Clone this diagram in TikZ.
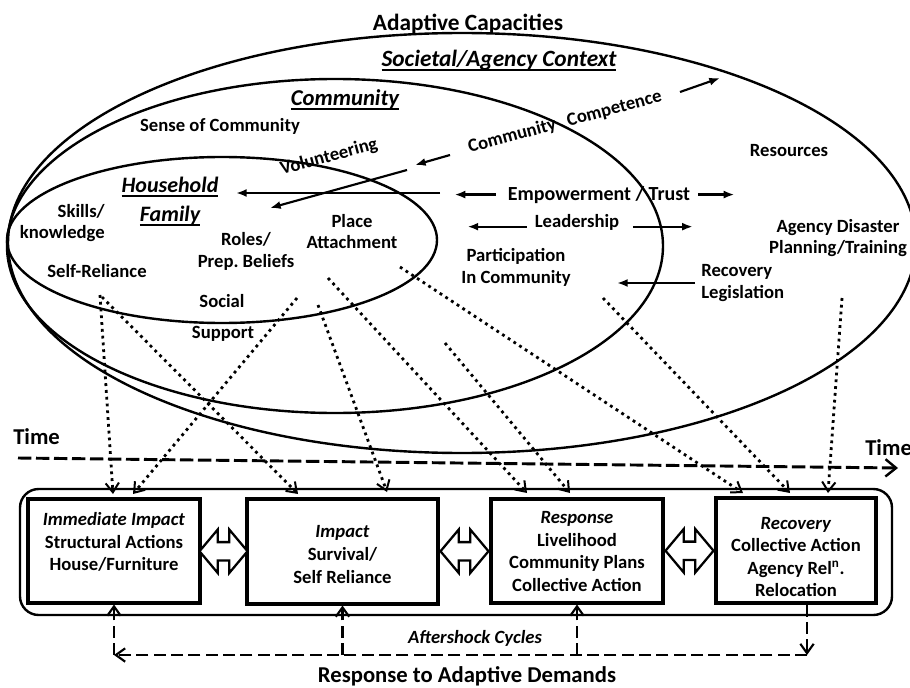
\documentclass[tikz,border=0pt]{standalone}
\usepackage{fontspec}
\setmainfont{Carlito}
\frenchspacing
\usetikzlibrary{arrows.meta,shapes.arrows,calc}
\newcommand{\undl}[1]{\setbox0=\hbox{#1}\rlap{\rule[-3pt]{\wd0}{1.4pt}}\box0}
\tikzset{
  lbl/.style={font=\bfseries\fontsize{14}{16}\selectfont, inner sep=0pt, align=center},
  biglbl/.style={lbl, font=\bfseries\fontsize{17.5}{20}\selectfont},
  ttl/.style={lbl, font=\bfseries\itshape\fontsize{16.5}{21.75}\selectfont},
  ring/.style={line width=1.8pt},
  solarr/.style={line width=1.6pt, -{Latex[length=8pt,width=6pt]}},
  dotarr/.style={line width=2.1pt, dash pattern=on 2.1pt off 3pt,
    -{Straight Barb[length=7pt,width=10pt,line width=1.5pt]}},
  dasharr/.style={line width=2.1pt, dash pattern=on 9pt off 4pt,
    -{Straight Barb[length=7pt,width=10pt,line width=1.6pt]}},
  stagebox/.style={draw, line width=2.3pt, inner sep=0pt},
  boxtxt/.style={font=\bfseries\fontsize{14}{16.9}\selectfont, inner sep=0pt, align=center},
  dblarr/.style={double arrow, draw, line width=1.7pt, fill=white, minimum height=36pt,
    double arrow head extend=9.5pt, double arrow tip angle=100, inner xsep=0pt, inner ysep=6pt}
}
\begin{document}
\begin{tikzpicture}[x=0.75pt,y=-0.75pt]
  \useasboundingbox (0,0) rectangle (910,688);
  % Nested capacity rings
  \draw[ring] (462,243) ellipse [x radius=454, y radius=210];
  \draw[ring] (335,246) ellipse [x radius=328, y radius=167];
  \draw[ring] (222,240) ellipse [x radius=215, y radius=83];
  % Ring labels
  \node[biglbl, anchor=base] (adcap) at (468,31) {Adaptive Capacities};
  \node[biglbl, font=\bfseries\itshape\fontsize{17.5}{20}\selectfont, anchor=base] (soc) at (499,67) {\undl{Societal/Agency Context}};
  \node[ttl, font=\bfseries\itshape\fontsize{17}{20}\selectfont, anchor=base] (comm) at (345,106) {\undl{Community}};
  \node[ttl] (hh) at (170,201.5) {\undl{Household}\\\undl{Family}};
  % Capacities
  \node[lbl, anchor=base] (sense) at (220,132) {Sense of Community};
  \node[lbl, rotate=15] (vol) at (329,157) {Volunteering};
  \node[lbl, rotate=15] (ccomp) at (565,122) {Community\hspace{9pt}Competence};
  \node[lbl, anchor=east, align=right] (skill) at (105,223) {Skills/\\knowledge};
  \node[lbl, anchor=base] (selfr) at (97,277) {Self-Reliance};
  \node[lbl] (roles) at (246,251.5) {Roles/\\Prep. Beliefs};
  \node[lbl] (place) at (352,231.5) {Place\\Attachment};
  \node[lbl, anchor=base] (social) at (222,307) {Social};
  \node[lbl, anchor=base] (supp) at (223,338) {Support};
  \node[lbl, font=\bfseries\fontsize{15}{18}\selectfont, anchor=base] (emp) at (599,200) {Empowerment / Trust};
  \node[lbl, anchor=base] (lead) at (577,228) {Leadership};
  \node[lbl, anchor=base] (res) at (789,157) {Resources};
  \node[lbl] (agency) at (838,238) {Agency Disaster\\Planning/Training};
  \node[lbl] (partic) at (516,267.5) {Participation\\In Community};
  \node[lbl, anchor=west, align=left] (recleg) at (701,283) {Recovery\\Legislation};
  % Solid arrows
  \coordinate (cc1) at (680,92);  \coordinate (cc2) at (720,78);
  \coordinate (cc3) at (450,155); \coordinate (cc4) at (415,165);
  \coordinate (vo1) at (407,170); \coordinate (vo2) at (270,208);
  \coordinate (em1) at (440,193); \coordinate (em2) at (236,193);
  \draw[solarr] (cc1) -- (cc2);
  \draw[solarr] (cc3) -- (cc4);
  \draw[solarr] (vo1) -- (vo2);
  \draw[solarr] (em1) -- (em2);
  \draw[solarr] ([xshift=6pt]emp.east) -- ++(36,0);
  \draw[solarr] ([xshift=-9pt]emp.west) -- ++(-41,0);
  \draw[solarr] ([xshift=10pt,yshift=1pt]lead.base east) -- ++(60,0);
  \draw[solarr] ([xshift=-6pt,yshift=1pt]lead.base west) -- ++(-59,0);
  \draw[solarr] ([xshift=-4.5pt]recleg.west) -- ++(-78,0);
  % Time axis
  \node[lbl, font=\bfseries\fontsize{17}{20}\selectfont, anchor=base west] (timeL) at (13,444) {Time};
  \node[lbl, font=\bfseries\fontsize{17}{20}\selectfont, anchor=base west] (timeR) at (865,455) {Time};
  \coordinate (tstart) at (18,458);
  \coordinate (tend) at (898,468);
  \draw[line width=2.2pt, dash pattern=on 10pt off 3.5pt,
    -{Straight Barb[length=8pt,width=13pt,line width=1.8pt]}] (tstart) -- (tend);
  % Stages
  \node[draw, line width=1.8pt, rounded corners=14pt, minimum width=654pt, minimum height=94.5pt] (frame) at (456,552) {};
  \node[stagebox, minimum width=129pt, minimum height=78pt] (b1) at (114,551) {};
  \node[stagebox, minimum width=143.25pt, minimum height=78.75pt] (b2) at (342.5,551.5) {};
  \node[stagebox, minimum width=129pt, minimum height=78pt] (b3) at (577,551) {};
  \node[stagebox, minimum width=120pt, minimum height=78.75pt] (b4) at (796,550.5) {};
  \node[boxtxt] (t1) at (114,542) {\textit{Immediate Impact}\\Structural Actions\\House/Furniture};
  \node[boxtxt] (t2) at (342.5,554.5) {\textit{Impact}\\Survival/\\Self Reliance};
  \node[boxtxt] (t3) at (577,551.5) {\textit{Response}\\Livelihood\\Community Plans\\Collective Action};
  \node[boxtxt] (t4) at (796,557) {\textit{Recovery}\\Collective Action\\Agency Rel\textsuperscript{n}.\\Relocation};
  \node[dblarr] (d12) at ($(b1.east)!0.5!(b2.west)$) {};
  \node[dblarr] (d23) at ($(b2.east)!0.5!(b3.west)$) {};
  \node[dblarr] (d34) at ($(b3.east)!0.5!(b4.west)$) {};
  % Capacities feeding the stages
  \foreach \n/\sx/\sy/\ex/\ey in {1/100/295/113/494, 2/102/297/298/494, 3/297/298/133/494,
      4/318/305/387/492, 5/328/278/527/493, 6/400/267/743/493, 7/445/343/570/493,
      8/603/298/790/493, 9/842/298/828/493} {
    \coordinate (ds\n) at (\sx,\sy);
    \coordinate (de\n) at (\ex,\ey);
    \draw[dotarr] (ds\n) -- (de\n);
  }
  % Aftershock cycles
  \coordinate (cyc) at (807,655);
  \draw[dasharr] ([xshift=8.25pt]b4.south) -- (cyc);
  \draw[dasharr] (cyc) -- (cyc -| b1.south);
  \foreach \b in {b1,b2,b3}
    \draw[dasharr] (cyc -| \b.south) -- (\b.south);
  \node[lbl, font=\bfseries\itshape\fontsize{14}{16}\selectfont, anchor=base] (after) at (475,643) {Aftershock Cycles};
  \node[lbl, font=\bfseries\fontsize{17}{20}\selectfont, anchor=base] (demand) at (467,682) {Response to Adaptive Demands};
\end{tikzpicture}
\end{document}
